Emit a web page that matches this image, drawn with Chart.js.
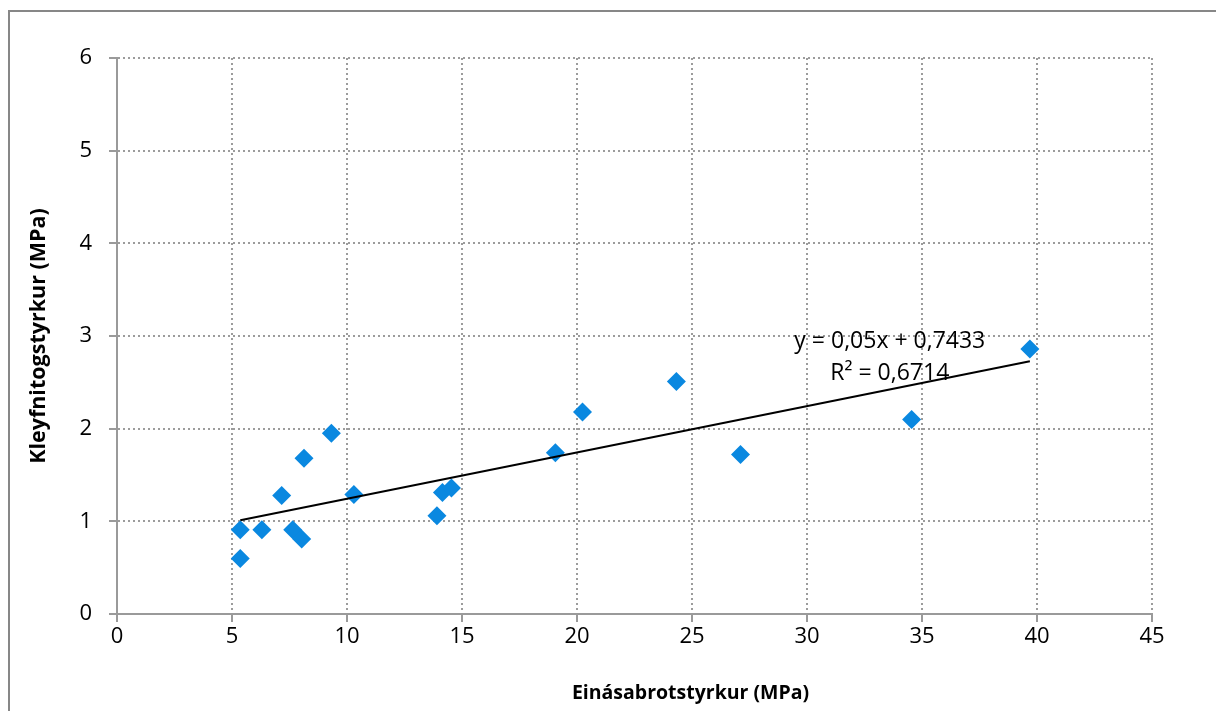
<!DOCTYPE html>
<html>
<head>
<meta charset="utf-8">
<script src="https://cdn.jsdelivr.net/npm/chart.js@4.4.1/dist/chart.umd.min.js"></script>
<style>
  html, body { margin: 0; padding: 0; background: #ffffff; }
  #wrap { position: relative; width: 1216px; height: 711px; overflow: hidden; }
  #frame { position: absolute; left: 8px; top: 10px; width: 1300px; height: 800px;
           border-left: 2px solid #878787; border-top: 2px solid #878787; pointer-events: none; }
  canvas { position: absolute; left: 0; top: 0; }
</style>
</head>
<body>
<div id="wrap">
  <canvas id="chart" width="1216" height="711"></canvas>
  <div id="frame"></div>
</div>
<script>
// Einásabrotstyrkur (MPa) against Kleyfnitogstyrkur (MPa)
const ucs     = [5.36, 5.36, 6.30, 7.16, 7.64, 8.03, 8.13, 9.32, 10.30, 13.91, 14.15, 14.54, 19.06, 20.24, 24.32, 27.11, 34.55, 39.69];
const tensile = [0.91, 0.60, 0.91, 1.28, 0.91, 0.81, 1.68, 1.95, 1.29, 1.06, 1.31, 1.36, 1.74, 2.18, 2.51, 1.72, 2.10, 2.86];

// Linear trendline as reported on the chart
const slope = 0.05;
const intercept = 0.7433;
const equationText = 'y = 0,05x + 0,7433';
const r2Text = 'R² = 0,6714';

const xTicks = [0, 5, 10, 15, 20, 25, 30, 35, 40, 45];
const yTicks = [0, 1, 2, 3, 4, 5, 6];

const xTitle = 'Einásabrotstyrkur (MPa)';
const yTitle = 'Kleyfnitogstyrkur (MPa)';

const FONT = "'Open Sans', 'DejaVu Sans', sans-serif";

const points = ucs.map((x, i) => ({ x, y: tensile[i] }));
const xMin = Math.min(...ucs), xMax = Math.max(...ucs);
const trend = [xMin, xMax].map(x => ({ x, y: slope * x + intercept }));

// Writes the trendline equation and R² near the upper end of the line,
// and the horizontal axis title under the tick labels
const annotations = {
  id: 'annotations',
  afterDatasetsDraw(chart) {
    const { ctx, chartArea, scales: { x, y } } = chart;
    const cx = x.getPixelForValue(33.6);
    ctx.save();
    ctx.fillStyle = '#000000';
    ctx.font = "23px " + FONT;
    ctx.textAlign = 'center';
    ctx.textBaseline = 'middle';
    ctx.fillText(equationText, cx, y.getPixelForValue(2.946));
    ctx.fillText(r2Text, cx, y.getPixelForValue(2.60));

    ctx.font = "bold 19.5px " + FONT;
    ctx.fillText(xTitle, (chartArea.left + chartArea.right) / 2 + 56, chartArea.bottom + 79);
    ctx.restore();
  }
};

const gridStyle = {
  color: '#9c9c9c',
  lineWidth: 2,
  tickLength: 8,
  tickColor: '#9a9a9a',
  tickBorderDash: [],
  tickWidth: 2
};

new Chart(document.getElementById('chart'), {
  type: 'scatter',
  data: {
    datasets: [
      {
        label: 'Mælingar',
        data: points,
        pointStyle: 'rectRot',
        pointRadius: 9.5,
        pointHoverRadius: 9.5,
        backgroundColor: '#0a88e0',
        borderColor: '#0a88e0',
        borderWidth: 0,
        order: 1
      },
      {
        label: 'Leitnilína',
        type: 'line',
        data: trend,
        borderColor: '#000000',
        borderWidth: 2,
        pointRadius: 0,
        fill: false,
        order: 0
      }
    ]
  },
  plugins: [annotations],
  options: {
    responsive: false,
    animation: false,
    events: [],
    layout: { padding: { left: 26, top: 58, right: 64, bottom: 0 } },
    plugins: {
      legend: { display: false },
      tooltip: { enabled: false }
    },
    scales: {
      x: {
        type: 'linear',
        min: xTicks[0],
        max: xTicks[xTicks.length - 1],
        afterBuildTicks(axis) { axis.ticks = xTicks.map(v => ({ value: v })); },
        afterFit(axis) { axis.height = 97; },
        ticks: {
          color: '#000000',
          font: { family: FONT, size: 22 },
          padding: 2,
          maxRotation: 0
        },
        grid: gridStyle,
        border: { display: true, color: '#9a9a9a', width: 2, dash: [2, 3] },
        title: { display: false }
      },
      y: {
        type: 'linear',
        min: yTicks[0],
        max: yTicks[yTicks.length - 1],
        afterBuildTicks(axis) { axis.ticks = yTicks.map(v => ({ value: v })); },
        afterFit(axis) { axis.width = 91; },
        ticks: {
          color: '#000000',
          font: { family: FONT, size: 22 },
          padding: 17
        },
        grid: gridStyle,
        border: { display: true, color: '#9a9a9a', width: 2, dash: [2, 3] },
        title: {
          display: true,
          text: yTitle,
          color: '#000000',
          font: { family: FONT, size: 21.5, weight: 'bold' },
          padding: { top: 0, bottom: 2 }
        }
      }
    }
  }
});
</script>
</body>
</html>
